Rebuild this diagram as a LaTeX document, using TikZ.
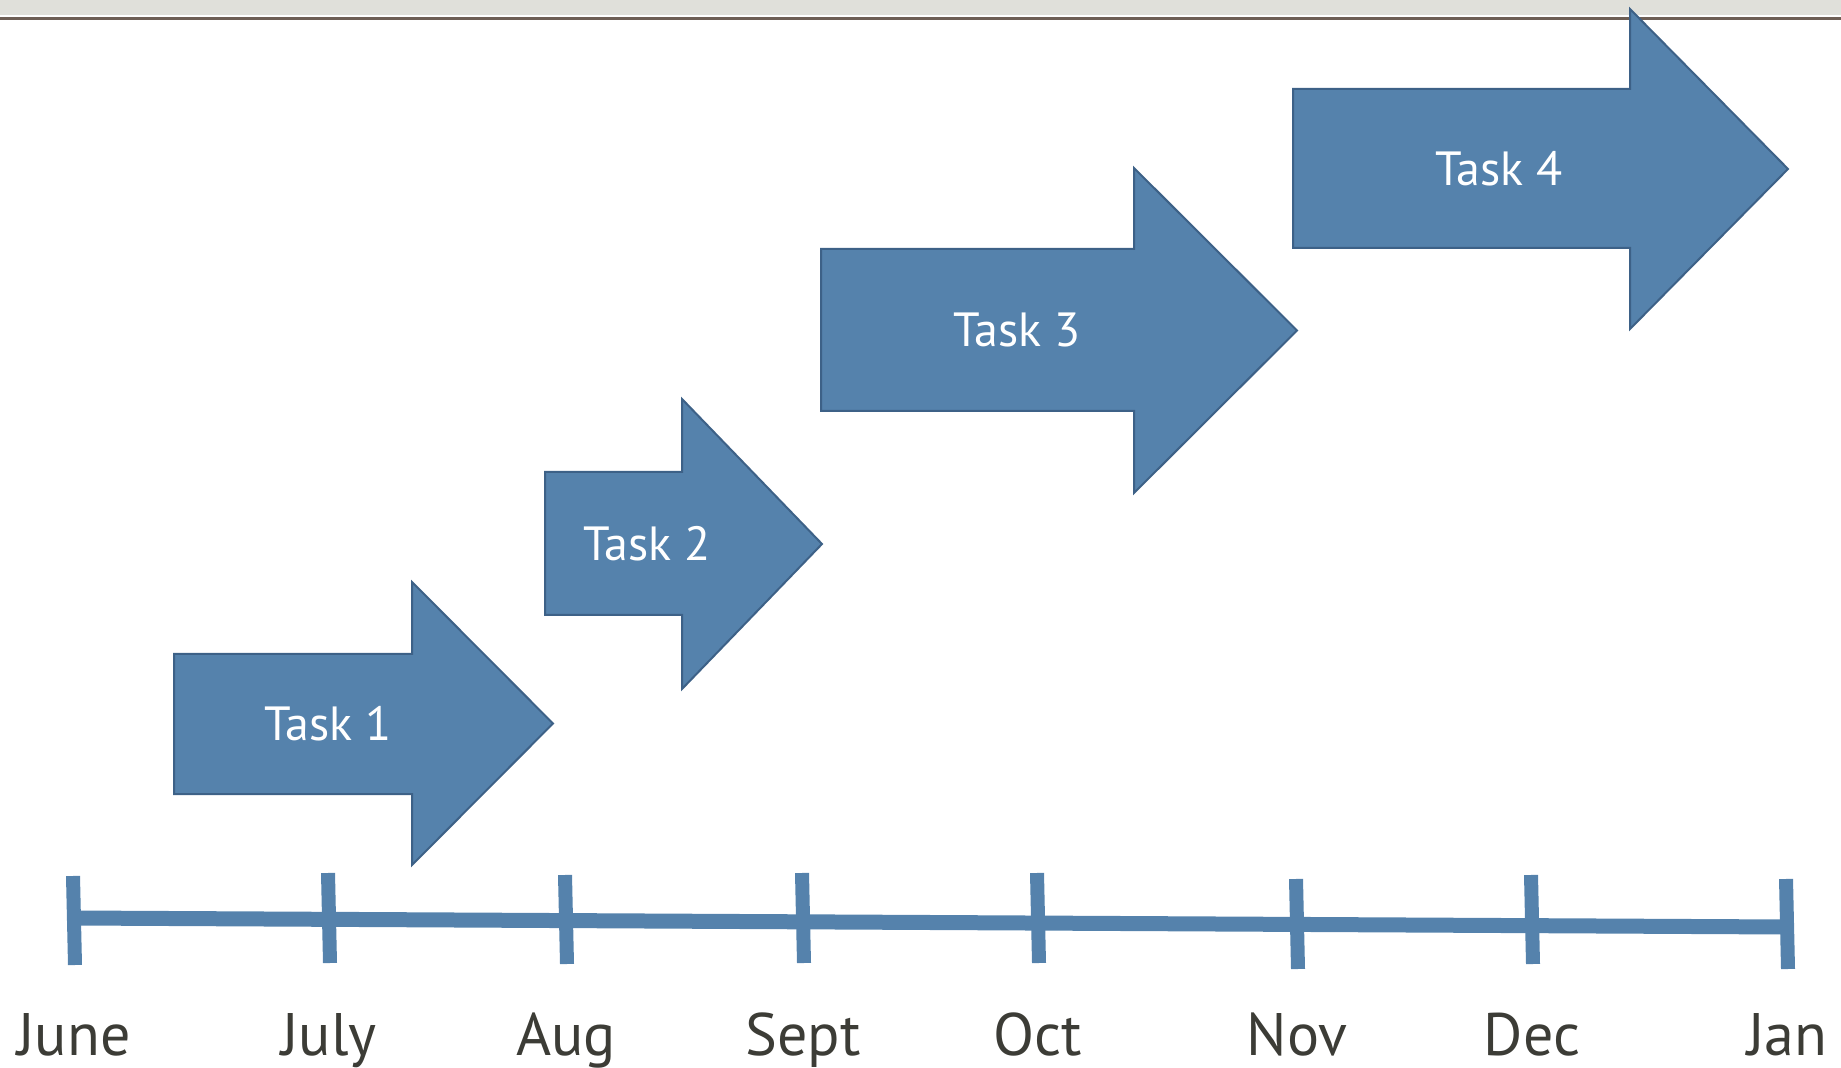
\documentclass[tikz,border=0pt]{standalone}
\usepackage{fontspec}
\setmainfont{PT Sans}
\definecolor{taskblue}{HTML}{5582AC}
\definecolor{taskedge}{HTML}{3D6187}
\definecolor{bandgrey}{HTML}{E0E0DA}
\definecolor{bandline}{HTML}{6E5F55}
\definecolor{monthgrey}{HTML}{3C3C36}
\tikzset{
  task/.style = {fill=taskblue, draw=taskedge, line width=1pt,
    line join=miter},% arrow body
  tasklabel/.style = {white, inner sep=0pt,
    font=\fontsize{24}{28}\selectfont},% text on the arrow
  month/.style = {anchor=base, inner sep=0pt, text=monthgrey,
    font=\fontsize{30}{36}\selectfont},% month under the axis
  axis/.style = {draw=taskblue, line width=7.5pt},
  tickmark/.style = {draw=taskblue, line width=7pt}
}
% left, top, bottom, head x, head top, head bottom, tip x, label x, number
\newcommand{\taskarrow}[9]{%
  \draw[task] (#1,#2) -- (#4,#2) -- (#4,#5) -- (#7,{(#5+#6)/2})
    -- (#4,#6) -- (#4,#3) -- (#1,#3) -- cycle;
  \node[tasklabel] (task#9) at (#8,{(#2+#3)/2}) {Task #9};}

\begin{document}
\begin{tikzpicture}[x=0.5pt,y=-0.5pt]
\useasboundingbox (0,0) rectangle (1841,1068);
% header band
\fill[bandgrey] (0,0) rectangle (1841,15);
\draw[bandline, line width=1.3pt] (0,18.5) -- (1841,18.5);
% timeline
\coordinate (axisL) at (74,918);
\coordinate (axisR) at (1787,927);
\draw[axis] (axisL) -- (axisR);
\foreach \x/\yt/\yb/\m in {74/876/965/June, 329/873/963/July,
    566/875/964/Aug, 803/873/963/Sept, 1038/873/963/Oct,
    1297/879/969/Nov, 1532/875/964/Dec, 1787/879/969/Jan}{
  \coordinate (\m-top) at (\x-1,\yt);
  \coordinate (\m-bot) at (\x+1,\yb);
  \draw[tickmark] (\m-top) -- (\m-bot);
  \node[month] (\m) at (\x,1055) {\m};
}
% tasks
\taskarrow{174}{654}{794}{412}{582}{865}{553}{328}{1}
\taskarrow{545}{472}{615}{682}{399}{689}{822}{647}{2}
\taskarrow{821}{249}{411}{1134}{168}{493}{1297}{1017}{3}
\taskarrow{1293}{89}{248}{1630}{9}{329}{1788}{1499}{4}
\end{tikzpicture}
\end{document}
